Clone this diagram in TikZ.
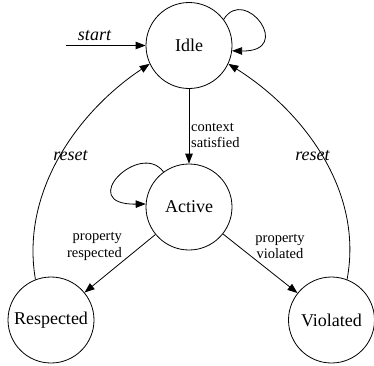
\documentclass[tikz,border=0pt]{standalone}
\usepackage{fontspec}
\setmainfont{Liberation Serif}
\usetikzlibrary{arrows.meta}
\begin{document}
\begin{tikzpicture}[x=1pt,y=-1pt,
  state/.style={draw,circle,minimum size=86pt,inner sep=0pt,line width=0.8pt,font=\fontsize{18}{20}\selectfont},
  edge/.style={line width=0.8pt,-{Triangle[length=10pt,width=7.5pt]}},
  elabel/.style={font=\fontsize{14.5}{16.5}\selectfont,inner sep=0pt},
  ilabel/.style={font=\fontsize{18}{20}\selectfont\itshape,inner sep=0pt}]
\useasboundingbox (0,0) rectangle (374,365);
\node[state] (i) at (189,45.5) {Idle};
\node[state] (a) at (189,207) {Active};
\node[state] (r) at (51,320) {Respected};
\node[state] (v) at (331.5,320) {Violated};
\coordinate (s) at (66,45.5);
\draw[edge] (s) -- (i);
\node[ilabel] (ls) at (94.5,36) {start};
\draw[edge] (i.37) .. controls (245,-15) and (295,52) .. (i.-7);
\draw[edge] (i) -- (a);
\node[elabel,anchor=west,align=left] (lc) at (191,135.5) {context\\satisfied};
\draw[edge] (a.126) .. controls (140,140) and (75,205) .. (a.176);
\draw[edge] (a) -- (r);
\node[elabel,anchor=east,align=right] (lr) at (122,246.5) {property\\respected};
\draw[edge] (a) -- (v);
\node[elabel,align=center] (lv) at (280,246.5) {property\\violated};
\draw[edge] (r.111) .. controls (20,190) and (80,110) .. (i.205);
\node[ilabel] (lre1) at (70.5,156) {reset};
\draw[edge] (v.69) .. controls (364,190) and (302,110) .. (i.-25);
\node[ilabel] (lre2) at (312.5,156) {reset};
\end{tikzpicture}
\end{document}
